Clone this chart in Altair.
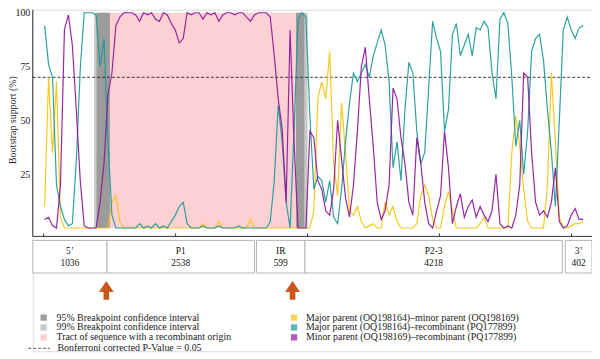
import altair as alt
import pandas as pd

FONT = "Liberation Serif"
TEXT = "#222222"

# ---- scale extents (alignment position, bootstrap %) ----
X_MIN, X_MAX = -165, 8310
Y_MIN, Y_MAX = -57.24, 101.38
AXIS_Y = -3.9

# ---- sliding-window positions (nt) ----
positions = list(range(15, 8235, 60))

pair_names = [
    "Major parent (OQ198164)\u2013minor parent (OQ198169)",
    "Major parent (OQ198164)\u2013recombinant (PQ177899)",
    "Minor parent (OQ198169)\u2013recombinant (PQ177899)",
]
pair_colors = ["#f7c30c", "#1a9999", "#8d1698"]

yellow = [
    10, 70, 35, 68, 5, 0, 0, 0, 0, 0,
    0, 0, 0, 0, 0, 0, 0, 12, 15, 3,
    0, 0, 0, 0, 0, 0, 0, 0, 0, 0,
    0, 0, 0, 0, 0, 0, 0, 0, 0, 0,
    2, 0, 0, 0, 3, 0, 0, 0, 0, 0,
    0, 0, 4, 0, 0, 0, 0, 0, 0, 0,
    0, 0, 0, 0, 0, 0, 0, 0, 8, 60,
    68, 60, 82, 30, 15, 58, 35, 8, 6, 10,
    3, 0, 1, 2, 0, 0, 12, 6, 10, 3,
    0, 0, 0, 0, 2, 15, 20, 15, 4, 0,
    0, 10, 17, 8, 0, 0, 0, 0, 0, 0,
    2, 5, 0, 0, 0, 0, 0, 0, 35, 52,
    38, 18, 3, 0, 0, 0, 0, 20, 72, 40,
    5, 0, 0, 1, 2, 2, 3,
]
teal = [
    94, 76, 70, 20, 10, 4, 1, 2, 31, 74,
    100, 100, 100, 99, 75, 88, 40, 6, 0, 0,
    0, 0, 0, 0, 2, 0, 1, 0, 2, 0,
    1, 0, 3, 6, 10, 12, 2, 0, 0, 0,
    1, 0, 0, 0, 1, 0, 0, 0, 0, 1,
    0, 0, 0, 0, 0, 0, 0, 3, 22, 57,
    40, 12, 0, 45, 97, 100, 98, 52, 18, 24,
    22, 12, 22, 5, 2, 18, 40, 58, 72, 68,
    72, 76, 70, 80, 86, 92, 85, 68, 28, 40,
    22, 55, 77, 72, 45, 30, 35, 65, 96, 88,
    82, 45, 55, 90, 95, 80, 85, 90, 80, 93,
    92, 96, 93, 72, 60, 97, 100, 95, 70, 38,
    50, 25, 45, 82, 88, 90, 78, 55, 35, 10,
    50, 92, 98, 92, 88, 93, 94,
]
purple = [
    4, 5, 1, 0, 20, 92, 99, 85, 55, 22,
    1, 0, 0, 0, 12, 30, 62, 72, 94, 98,
    100, 100, 100, 99, 96, 100, 99, 100, 97, 96,
    100, 99, 95, 92, 86, 88, 100, 99, 100, 100,
    97, 100, 99, 100, 96, 99, 100, 100, 99, 100,
    100, 98, 96, 99, 100, 100, 100, 98, 80, 60,
    46, 12, 92, 40, 0, 0, 0, 45, 42, 22,
    18, 8, 6, 18, 50, 32, 14, 5, 20, 45,
    75, 84, 60, 38, 12, 4, 8, 20, 65, 60,
    42, 30, 12, 6, 42, 30, 12, 2, 0, 8,
    15, 45, 28, 2, 10, 16, 5, 10, 13, 5,
    10, 6, 3, 8, 25, 2, 0, 1, 0, 6,
    20, 72, 70, 35, 12, 6, 8, 5, 12, 28,
    3, 0, 1, 6, 9, 4, 4,
]

# ---- breakpoint intervals and recombinant tract ----
ci_labels = [
    "95% Breakpoint confidence interval",
    "99% Breakpoint confidence interval",
    "Tract of sequence with a recombinant origin",
]
ci_colors = ["#9b9b9b", "#c9c9c9", "#fdd1d3"]
ci_kind = [ci_labels[1], ci_labels[1], ci_labels[0], ci_labels[0], ci_labels[2]]
ci_start = [765, 3825, 802, 3825, 1005]
ci_end = [1005, 4000, 1005, 3950, 3825]

# ---- genome map ----
regions = ["5\u2019", "P1", "IR", "P2-3", "3\u2019"]
region_len = ["1036", "2538", "599", "4218", "402"]
region_start = [-165, 960, 3225, 3960, 7905]
region_end = [960, 3195, 3960, 7860, 8310]
MAP_TOP, MAP_BOTTOM = -5.75, -20.9
MAP_NAME_Y, MAP_LEN_Y = -10.8, -16.3

breakpoints = [950, 3772]
ARROW_Y = -28.97
x_ticks = [0, 2000, 4000, 6000, 8000]
threshold = 70
threshold_label = "Bonferroni corrected P-Value = 0.05"

# ---- tables ----
n = len(positions)
lines_df = pd.DataFrame({
    "pos": positions * 3,
    "support": yellow + teal + purple,
    "pair": [pair_names[0]] * n + [pair_names[1]] * n + [pair_names[2]] * n,
})
shade_df = pd.DataFrame({"start": ci_start, "end": ci_end, "kind": ci_kind})
map_df = pd.DataFrame({"start": region_start, "end": region_end,
                       "name": regions, "length": region_len})
map_df["mid"] = (map_df["start"] + map_df["end"]) / 2
bp_df = pd.DataFrame({"pos": breakpoints})
tick_df = pd.DataFrame({"pos": x_ticks})
thr_df = pd.DataFrame({"support": [threshold], "label": [threshold_label]})
frame_df = pd.DataFrame({"y0": [AXIS_Y], "y1": [Y_MAX], "x0": [X_MIN], "x1": [X_MAX]})
key_df = pd.DataFrame({"pair": pair_names})

xs = alt.Scale(domain=[X_MIN, X_MAX], nice=False, zero=False)
ys = alt.Scale(domain=[Y_MIN, Y_MAX], nice=False, zero=False)

y_axis = alt.Axis(values=[25, 50, 75, 100], domain=False, ticks=False,
                  grid=False, labelFont=FONT, labelFontSize=10, labelColor=TEXT,
                  labelPadding=3, title="Bootstrap support (%)", titleFont=FONT,
                  titleFontSize=10, titleFontWeight="normal", titleColor=TEXT,
                  titleX=-15, titleY=111)

legend_common = dict(title=None, orient="none", labelFont=FONT, labelFontSize=10,
                     labelColor=TEXT, labelLimit=400, padding=0)

# y-axis line carries the axis (first layer); other layers leave y axis unset
y_line = alt.Chart(frame_df).mark_rule(color="#333", strokeWidth=1).encode(
    x=alt.X("x0:Q", scale=xs, axis=None),
    y=alt.Y("y0:Q", scale=ys, axis=y_axis), y2="y1:Q",
)

shade = alt.Chart(shade_df).mark_rect().encode(
    x=alt.X("start:Q", scale=xs, axis=None),
    x2="end:Q",
    y=alt.YDatum(0),
    y2=alt.Y2Datum(100),
    fill=alt.Fill("kind:N", scale=alt.Scale(domain=ci_labels, range=ci_colors),
                  legend=alt.Legend(legendX=6, legendY=306, symbolType="square",
                                    symbolSize=40, symbolStrokeWidth=0, labelOffset=8,
                                    rowPadding=0, **legend_common)),
)

thr = alt.Chart(thr_df).mark_rule(color="#222", strokeWidth=0.9).encode(
    y=alt.Y("support:Q"),
    x=alt.XDatum(X_MIN, scale=xs, axis=None),
    x2=alt.X2Datum(X_MAX),
    strokeDash=alt.StrokeDash("label:N",
                              scale=alt.Scale(domain=[threshold_label], range=[[3, 2]]),
                              legend=alt.Legend(legendX=-5, legendY=330.5, symbolType="stroke",
                                                symbolSize=484, symbolStrokeColor="#444",
                                                symbolStrokeWidth=0.9, labelOffset=7,
                                                **legend_common)),
)

lines = alt.Chart(lines_df).mark_line(strokeWidth=1.2, strokeOpacity=0.92).encode(
    x=alt.X("pos:Q", scale=xs, axis=None),
    y=alt.Y("support:Q"),
    color=alt.Color("pair:N", scale=alt.Scale(domain=pair_names, range=pair_colors),
                    legend=None),
)

# legend key for the three comparisons (filled squares)
key = alt.Chart(key_df).mark_square(size=0, filled=True).encode(
    x=alt.XDatum(X_MIN, scale=xs, axis=None),
    y=alt.YDatum(0),
    fill=alt.Fill("pair:N", scale=alt.Scale(domain=pair_names, range=pair_colors),
                  legend=alt.Legend(legendX=259, legendY=306, symbolType="square",
                                    symbolSize=40, symbolStrokeWidth=0, labelOffset=7,
                                    rowPadding=0, **legend_common)),
)

x_line = alt.Chart(frame_df).mark_rule(color="#333", strokeWidth=1).encode(
    x=alt.X("x0:Q", scale=xs, axis=None), x2="x1:Q",
    y=alt.Y("y0:Q"),
)
ticks = alt.Chart(tick_df).mark_rule(color="#333", strokeWidth=1).encode(
    x=alt.X("pos:Q", scale=xs, axis=None),
    y=alt.YDatum(AXIS_Y),
    y2=alt.Y2Datum(AXIS_Y + 1.4),
)

boxes = alt.Chart(map_df).mark_rect(fill="white", stroke="#b3b3b3", strokeWidth=1).encode(
    x=alt.X("start:Q", scale=xs, axis=None), x2="end:Q",
    y=alt.YDatum(MAP_TOP), y2=alt.Y2Datum(MAP_BOTTOM),
)
names = alt.Chart(map_df).mark_text(font=FONT, fontSize=9.5, color="#111",
                                    baseline="middle").encode(
    x=alt.X("mid:Q", scale=xs, axis=None),
    y=alt.YDatum(MAP_NAME_Y),
    text="name:N",
)
lens = alt.Chart(map_df).mark_text(font=FONT, fontSize=9.5, color="#111",
                                   baseline="middle").encode(
    x=alt.X("mid:Q", scale=xs, axis=None),
    y=alt.YDatum(MAP_LEN_Y),
    text="length:N",
)

ARROW = "M0,-1 L0.79,0.16 L0.3,0.16 L0.3,1 L-0.3,1 L-0.3,0.16 L-0.79,0.16 Z"
arrows = alt.Chart(bp_df).mark_point(shape=ARROW, size=361, filled=True,
                                     color="#c9561b", opacity=1, strokeWidth=0).encode(
    x=alt.X("pos:Q", scale=xs, axis=None),
    y=alt.YDatum(ARROW_Y),
)

chart = alt.layer(
    y_line, shade, thr, lines, key, x_line, ticks, boxes, names, lens, arrows
).resolve_scale(fill="independent").properties(
    width=565, height=345,
    padding={"left": 25, "top": 0, "right": 0, "bottom": 0},
    autosize=alt.AutoSizeParams(type="none"),
).configure_view(stroke=None).configure(background="white")

chart.save("out.html", embed_options={"renderer": "svg", "actions": False})
